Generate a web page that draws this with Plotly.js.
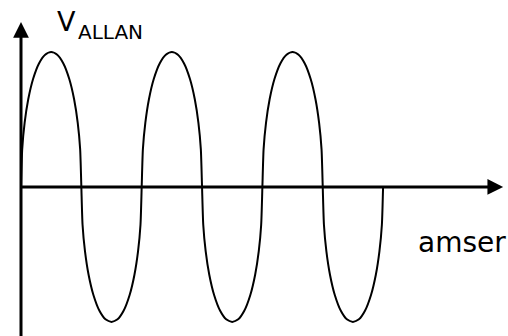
<!DOCTYPE html>
<html>
<head>
<meta charset="utf-8">
<script src="https://cdn.plot.ly/plotly-3.0.1.min.js"></script>
<style>html,body{margin:0;padding:0;background:#fff;}#chart{width:508px;height:336px;}</style>
</head>
<body>
<div id="chart"></div>
<script>
// time (in half-periods)
var timeValues = [
  0,0.02,0.06,0.12,0.2,0.3,0.4,0.5,0.6,0.7,0.8,0.88,0.94,0.98,
  1,1.02,1.06,1.12,1.2,1.3,1.4,1.5,1.6,1.7,1.8,1.88,1.94,1.98,
  2,2.02,2.06,2.12,2.2,2.3,2.4,2.5,2.6,2.7,2.8,2.88,2.94,2.98,
  3,3.02,3.06,3.12,3.2,3.3,3.4,3.5,3.6,3.7,3.8,3.88,3.94,3.98,
  4,4.02,4.06,4.12,4.2,4.3,4.4,4.5,4.6,4.7,4.8,4.88,4.94,4.98,
  5,5.02,5.06,5.12,5.2,5.3,5.4,5.5,5.6,5.7,5.8,5.88,5.94,5.98,
  6
];
// voltage (relative to peak)
var voltageValues = [
  0,0.28,0.475,0.65,0.8,0.917,0.98,1,0.98,0.917,0.8,0.65,0.475,0.28,
  0,-0.28,-0.475,-0.65,-0.8,-0.917,-0.98,-1,-0.98,-0.917,-0.8,-0.65,-0.475,-0.28,
  0,0.28,0.475,0.65,0.8,0.917,0.98,1,0.98,0.917,0.8,0.65,0.475,0.28,
  0,-0.28,-0.475,-0.65,-0.8,-0.917,-0.98,-1,-0.98,-0.917,-0.8,-0.65,-0.475,-0.28,
  0,0.28,0.475,0.65,0.8,0.917,0.98,1,0.98,0.917,0.8,0.65,0.475,0.28,
  0,-0.28,-0.475,-0.65,-0.8,-0.917,-0.98,-1,-0.98,-0.917,-0.8,-0.65,-0.475,-0.28,
  0
];
var yLabelMain = "V";
var yLabelSub = "ALLAN";
var xLabel = "amser";

var fontFam = '"Comic Sans MS", "DejaVu Sans", sans-serif';

var trace = {
  x: timeValues,
  y: voltageValues,
  type: 'scatter',
  mode: 'lines',
  line: {color: '#000', width: 2, shape: 'spline', smoothing: 0.6},
  hoverinfo: 'skip'
};

var layout = {
  width: 508, height: 336,
  margin: {l: 0, r: 0, t: 0, b: 0, pad: 0},
  paper_bgcolor: '#fff', plot_bgcolor: '#fff',
  showlegend: false,
  xaxis: {range: [-0.348, 8.07], visible: false, fixedrange: true},
  yaxis: {range: [-1.104, 1.385], visible: false, fixedrange: true},
  annotations: [
    {x: 7.99, y: 0, ax: -0.02, ay: 0, xref: 'x', yref: 'y', axref: 'x', ayref: 'y',
     text: '', showarrow: true, arrowhead: 2, arrowsize: 1.05, arrowwidth: 3, arrowcolor: '#000', standoff: 0, startstandoff: 0},
    {x: 0, y: 1.222, ax: 0, ay: -1.12, xref: 'x', yref: 'y', axref: 'x', ayref: 'y',
     text: '', showarrow: true, arrowhead: 2, arrowsize: 1.05, arrowwidth: 3, arrowcolor: '#000', standoff: 0, startstandoff: 0},
    {x: 55/508, y: 1 - 4/336, xref: 'paper', yref: 'paper', xanchor: 'left', yanchor: 'top',
     text: yLabelMain, showarrow: false, font: {family: fontFam, size: 27, color: '#000'}},
    {x: 76/508, y: 1 - 18/336, xref: 'paper', yref: 'paper', xanchor: 'left', yanchor: 'top',
     text: yLabelSub, showarrow: false, font: {family: fontFam, size: 20, color: '#000'}},
    {x: 416/508, y: 1 - 224/336, xref: 'paper', yref: 'paper', xanchor: 'left', yanchor: 'top',
     text: xLabel, showarrow: false, font: {family: fontFam, size: 28, color: '#000'}}
  ]
};

Plotly.newPlot('chart', [trace], layout, {staticPlot: true, displayModeBar: false});
</script>
</body>
</html>
